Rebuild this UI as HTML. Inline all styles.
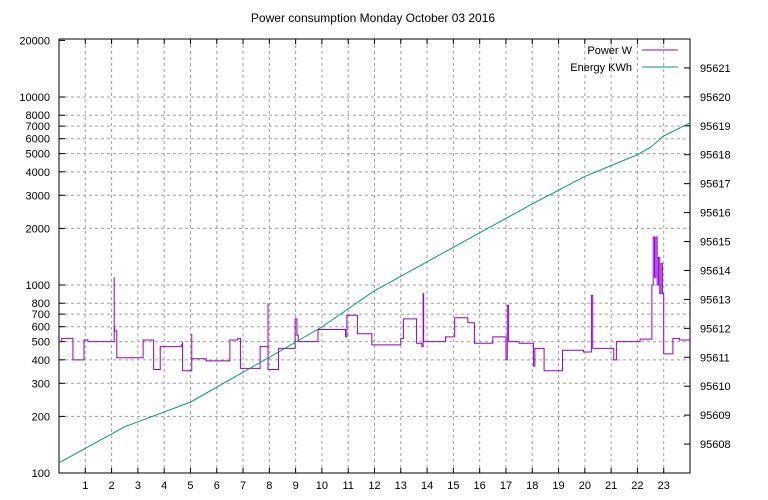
<!DOCTYPE html>
<html><head><meta charset="utf-8"><style>
body{margin:0;background:#fff}
svg{display:block;font-family:"Liberation Sans",sans-serif;font-size:11px}
</style></head><body>
<svg id="c" width="768" height="500">
<text x="373" y="22" text-anchor="middle" font-size="12">Power consumption Monday October 03 2016</text>
<g id="grid"></g><g id="axes"></g><g id="series"></g>
<g>
<text x="632" y="54" text-anchor="end">Power W</text>
<line x1="642" y1="50" x2="678" y2="50" stroke="#9400d3"/>
<text x="632" y="71" text-anchor="end">Energy KWh</text>
<line x1="642" y1="67" x2="678" y2="67" stroke="#009e73"/>
</g>
</svg>
<script>
const xTicks=[1,2,3,4,5,6,7,8,9,10,11,12,13,14,15,16,17,18,19,20,21,22,23];
const yTicks=[100,200,300,400,500,600,700,800,1000,2000,3000,4000,5000,6000,7000,8000,10000,20000];
const y2Ticks=[95608,95609,95610,95611,95612,95613,95614,95615,95616,95617,95618,95619,95620,95621];
const powerHours=[0,0.1,0.53,0.95,1.1,2.1,2.1,2.12,2.2,2.5,3.2,3.6,3.85,4.65,4.7,4.7,5.05,5.05,5.6,6.5,6.8,6.9,7.65,7.95,7.95,8.35,8.98,9.05,9.1,9.85,10.9,10.95,11.0,11.35,11.9,13.0,13.1,13.6,13.8,13.85,13.87,14.7,15.05,15.55,15.8,16.5,17.0,17.05,17.1,17.5,18.05,18.1,18.45,19.15,19.95,20.25,20.3,21.1,21.2,22.1,22.55,22.6,22.65,22.7,22.75,22.8,22.85,22.9,22.95,23.0,23.35,23.6];
const powerWatts=[500,520,400,510,500,1100,590,570,410,410,510,355,470,480,500,350,550,405,395,510,520,360,470,800,355,460,660,540,500,580,530,690,690,550,480,520,660,490,470,900,500,530,670,630,490,530,400,780,500,490,370,460,350,450,440,880,460,400,500,515,1000,1800,1100,1800,1000,1400,900,1300,900,430,520,510];
const energyHours=[0,2.5,5,8,10,12,14,16,18,20,22,22.5,23,24];
const energyKwh=[95607.35,95608.6,95609.45,95611.0,95612.05,95613.3,95614.3,95615.3,95616.3,95617.25,95618.0,95618.26,95618.65,95619.1];
const L=59,R=690,T=39,B=473;
const X=h=>L+(R-L)*h/24;
const Y=v=>B-188*Math.log10(v/100);
const Y2=v=>B-(B-T)*(v-95607)/15;
const ns="http://www.w3.org/2000/svg";
function mk(p,t,a){const e=document.createElementNS(ns,t);for(const k in a)e.setAttribute(k,a[k]);p.appendChild(e);return e;}
const grid=document.getElementById('grid'),axes=document.getElementById('axes'),ser=document.getElementById('series');
xTicks.forEach(h=>{const x=X(h);
 const g=mk(grid,'line',{x1:x,x2:x,y1:T,y2:B,stroke:'#a0a0a0','stroke-dasharray':'3,3'});
 
 
 mk(axes,'line',{x1:x,x2:x,y1:B,y2:B-5,stroke:'#000'});mk(axes,'line',{x1:x,x2:x,y1:T,y2:T+5,stroke:'#000'});
 const t=mk(axes,'text',{x:x,y:B+16,'text-anchor':'middle'});t.textContent=h;
 
 
});
yTicks.forEach(v=>{const y=Y(v);
 if(v>100&&v<20000){const g=mk(grid,'line',{x1:L,x2:R,y1:y,y2:y,stroke:'#a0a0a0','stroke-dasharray':'3,3'});
 
 }
 mk(axes,'line',{x1:L,x2:L+6,y1:y,y2:y,stroke:'#000'});
 const t=mk(axes,'text',{x:L-9,y:y+4,'text-anchor':'end'});t.textContent=v;
 
 
});
y2Ticks.forEach(v=>{const y=Y2(v);
 mk(axes,'line',{x1:R-6,x2:R,y1:y,y2:y,stroke:'#000'});
 const t=mk(axes,'text',{x:R+10,y:y+4});t.textContent=v;
 
 
});
const fr=mk(axes,'rect',{x:L,y:T,width:R-L,height:B-T,fill:'none',stroke:'#000'});


let d='';
powerHours.forEach((h,i)=>{const x=X(h),y=Y(powerWatts[i]);
 if(i===0)d+='M'+x+','+y;else d+='H'+x+'V'+y;});
d+='H'+X(24);
const pl=mk(ser,'path',{d:d,fill:'none',stroke:'#9400d3','stroke-width':1});


const ep=energyHours.map((h,i)=>X(h)+','+Y2(energyKwh[i])).join(' ');
const el=mk(ser,'polyline',{points:ep,fill:'none',stroke:'#009e73','stroke-width':1});


</script>
</body></html>
